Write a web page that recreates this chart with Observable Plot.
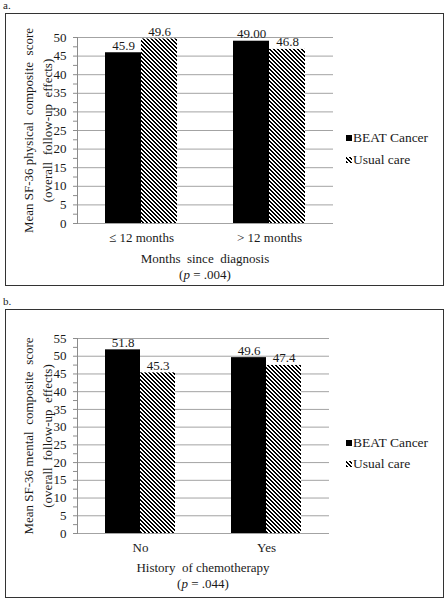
<!DOCTYPE html>
<html><head><meta charset="utf-8">
<script src="https://cdn.jsdelivr.net/npm/d3@7"></script>
<script src="https://cdn.jsdelivr.net/npm/@observablehq/plot@0.6"></script>
<style>
body{margin:0;background:#fff;width:447px;height:601px;position:relative;font-family:"Liberation Serif","Times New Roman",serif;color:#1a1a1a;overflow:hidden}
.box{position:absolute;border:1px solid #333;box-sizing:border-box}
.lab{position:absolute;font-size:11px;left:3px}
.chart{position:absolute;left:0}
.cap{position:absolute;font-size:13px;text-align:center;width:240px;line-height:16px;white-space:nowrap}
.leg{position:absolute;left:346px;font-size:13.5px;line-height:16px;display:flex;align-items:center;white-space:nowrap}
.sw{width:6px;height:6px;margin-right:1px;display:inline-block}
.sw.b{background:#000}
.sw.h{background:repeating-linear-gradient(45deg,#000 0 1.5px,#fff 1.5px 3px)}
</style>
</head><body>
<div class="lab" style="top:-1px">a.</div>
<div class="box" style="left:5px;top:13px;width:439px;height:273px"></div>
<div id="ca" class="chart" style="top:0"></div>
<div class="cap" style="left:85px;top:251px">Months&nbsp; since&nbsp; diagnosis<br>(<i>p</i> = .004)</div>
<div class="leg" style="top:130px"><span class="sw b"></span>BEAT Cancer</div>
<div class="leg" style="top:152px"><span class="sw h"></span>Usual care</div>

<div class="lab" style="top:295px">b.</div>
<div class="box" style="left:5px;top:309px;width:439px;height:289px"></div>
<div id="cb" class="chart" style="top:300px"></div>
<div class="cap" style="left:83px;top:560px">History&nbsp; of chemotherapy<br>(<i>p</i> = .044)</div>
<div class="leg" style="top:435px"><span class="sw b"></span>BEAT Cancer</div>
<div class="leg" style="top:456px"><span class="sw h"></span>Usual care</div>

<script>
const seriesNames = ["BEAT Cancer", "Usual care"];

const groupsA = ["≤ 12 months", "> 12 months"];
const beatA = [45.9, 49.0];
const usualA = [49.6, 46.8];
const beatLabelsA = ["45.9", "49.00"];
const usualLabelsA = ["49.6", "46.8"];
const yTicksA = [0, 5, 10, 15, 20, 25, 30, 35, 40, 45, 50];
const yTitleA = "Mean SF-36 physical  composite  score\n(overall  follow-up  effects)";

const groupsB = ["No", "Yes"];
const beatB = [51.8, 49.6];
const usualB = [45.3, 47.4];
const beatLabelsB = ["51.8", "49.6"];
const usualLabelsB = ["45.3", "47.4"];
const yTicksB = [0, 5, 10, 15, 20, 25, 30, 35, 40, 45, 50, 55];
const yTitleB = "Mean SF-36 mental  composite  score\n(overall  follow-up  effects)";

function rowsOf(groups, beat, usual, beatLabels, usualLabels) {
  const rows = [];
  groups.forEach((g, i) => {
    rows.push({group: g, series: seriesNames[0], value: beat[i], label: beatLabels[i]});
    rows.push({group: g, series: seriesNames[1], value: usual[i], label: usualLabels[i]});
  });
  return rows;
}

function makeChart(cfg) {
  const rows = rowsOf(cfg.groups, cfg.beat, cfg.usual, cfg.beatLabels, cfg.usualLabels);
  const ymax = cfg.yTicks[cfg.yTicks.length - 1];
  const minor = d3.range(0, ymax + 0.001, 2.5);
  const pid = "hatch-" + cfg.id;
  const svg = Plot.plot({
    width: 447,
    height: cfg.height,
    marginLeft: 77,
    marginRight: cfg.marginRight,
    marginTop: cfg.marginTop,
    marginBottom: cfg.marginBottom,
    style: {fontFamily: "'Liberation Serif', 'Times New Roman', serif", fontSize: "13px", color: "#1a1a1a", background: "transparent", overflow: "visible"},
    fx: {domain: cfg.groups, padding: 0},
    x: {domain: seriesNames, paddingInner: 0, paddingOuter: 0.76, axis: null},
    y: {domain: [0, ymax], axis: null},
    color: {domain: seriesNames, range: ["#000", `url(#${pid})`]},
    marks: [
      Plot.gridY(cfg.yTicks, {stroke: "#a3a3a3", strokeOpacity: 1}),
      Plot.barY(rows, {fx: "group", x: "series", y: "value", fill: "series"}),
      Plot.text(rows, {fx: "group", x: "series", y: "value", text: "label", dy: -3, lineAnchor: "bottom", fontSize: 13, fill: "#1a1a1a"}),
      Plot.axisY(minor, {tickSize: 4, tickPadding: 7, stroke: "#8c8c8c", fill: "#1a1a1a", fontSize: 13, tickFormat: d => d % 5 === 0 ? String(d) : "", label: null}),
      Plot.frame({anchor: "left", stroke: "#8c8c8c", facetAnchor: "left"}),
      Plot.axisFx({anchor: "bottom", tickSize: 0, tickPadding: 9, label: null, fontSize: 13, fill: "#1a1a1a"}),
      Plot.text([cfg.yTitle], {frameAnchor: "left", textAnchor: "middle", lineAnchor: "middle", rotate: -90, dx: -41, lineHeight: 1.45, fontSize: 13, facetAnchor: "left", fill: "#1a1a1a"})
    ]
  });
  const defs = d3.select(svg).insert("defs", ":first-child");
  const pat = defs.append("pattern").attr("id", pid).attr("patternUnits", "userSpaceOnUse")
    .attr("x", 0).attr("y", 0).attr("width", 4).attr("height", 4);
  pat.append("rect").attr("width", 4).attr("height", 4).attr("fill", "#fff");
  for (let r = 0; r < 4; r++) {
    pat.append("rect").attr("x", r).attr("y", r).attr("width", 1).attr("height", 1).attr("fill", "#000");
    pat.append("rect").attr("x", (r + 1) % 4).attr("y", r).attr("width", 1).attr("height", 1).attr("fill", "#000");
  }
  return svg;
}

document.getElementById("ca").appendChild(makeChart({
  id: "a", groups: groupsA, beat: beatA, usual: usualA, beatLabels: beatLabelsA, usualLabels: usualLabelsA,
  yTicks: yTicksA, yTitle: yTitleA, height: 290, marginTop: 37, marginBottom: 67, marginRight: 114
}));
document.getElementById("cb").appendChild(makeChart({
  id: "b", groups: groupsB, beat: beatB, usual: usualB, beatLabels: beatLabelsB, usualLabels: usualLabelsB,
  yTicks: yTicksB, yTitle: yTitleB, height: 301, marginTop: 38, marginBottom: 68, marginRight: 118
}));
</script>
</body></html>
